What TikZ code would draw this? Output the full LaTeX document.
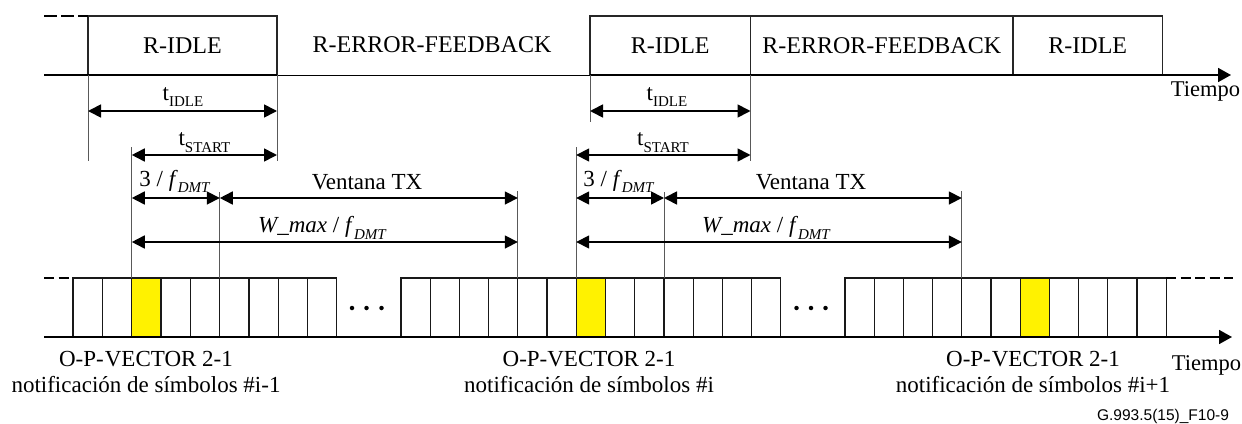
\documentclass[tikz,border=0pt]{standalone}
\usepackage{fontspec}
\setmainfont{Liberation Serif}
\newfontfamily\sansf{Liberation Sans}
\usetikzlibrary{arrows.meta}
\newcommand{\subtxt}[1]{\raisebox{-.28em}{\fontsize{15}{15}\selectfont #1}}
\tikzset{
  x=1pt,y=-1pt,
  lbl/.style={inner sep=0pt,outer sep=0pt,font=\fontsize{23}{24}\selectfont,anchor=center},
  seg/.style={draw=black!85,line width=1.1pt,inner sep=0pt,outer sep=0pt,anchor=north west,minimum height=59pt,font=\fontsize{24}{24}\selectfont},
  cell/.style={draw=black!90,line width=1.2pt,inner sep=0pt,outer sep=0pt,anchor=north west,minimum width=29.2pt,minimum height=59pt},
  hot/.style={cell,fill=yellow},
  axis/.style={line width=1.8pt,-{Triangle[length=13pt,width=14pt]}},
  axisplain/.style={line width=1.8pt},
  thinaxis/.style={line width=.9pt},
  dim/.style={line width=1.7pt,{Triangle[length=13pt,width=13pt]}-{Triangle[length=13pt,width=13pt]}},
  tick/.style={line width=.9pt,draw=black!65},
  dashline/.style={line width=1.6pt,dash pattern=on 10pt off 4.5pt},
  dotm/.style={circle,fill=black,inner sep=0pt,minimum size=4.5pt},
}
\begin{document}
\begin{tikzpicture}
\useasboundingbox (0,0) rectangle (1242,423);
% top segments
\node[seg,minimum width=189pt] (s1) at (88,16) {R-IDLE};
\node[seg,minimum width=160.5pt] (s2) at (590,16) {R-IDLE};
\node[seg,minimum width=262.5pt] (s3) at (750.5,16) {R-ERROR-FEEDBACK};
\node[seg,minimum width=149.5pt] (s4) at (1013,16) {R-IDLE};
\node[lbl,font=\fontsize{24}{24}\selectfont] (ef) at (432,44.5) {R-ERROR-FEEDBACK};
% top axis
\coordinate (ta0) at (44,75);
\coordinate (ta1) at (1231,75);
\draw[axisplain] (ta0) -- (s1.south east);
\draw[thinaxis] (s1.south east) -- (s2.south west);
\draw[axis] (s2.south west) -- (ta1);
\coordinate (td) at (44,16);
\draw[dashline,dash pattern=on 13pt off 4pt] (td) -- (s1.north west);
% bottom cells
\foreach \n/\x in {1/73,2/102.2,4/161.4,5/190.6,6/219.8,7/249,8/278.2,9/307.4,
  10/401,11/430.2,12/459.4,13/488.6,14/517.8,15/547,17/605.6,18/634.8,19/664,20/693.2,21/722.4,22/751.6,
  23/845,24/874.2,25/903.4,26/932.6,27/961.8,28/991,30/1049.4,31/1078.6,32/1107.8,33/1137}
  {\node[cell] (c\n) at (\x,278) {};}
\node[hot] (c3) at (131.8,278) {};
\node[hot] (c16) at (576.2,278) {};
\node[hot] (c29) at (1020.2,278) {};
% bottom axis
\coordinate (ba0) at (44,337);
\coordinate (ba1) at (1232,337);
\draw[axis] (ba0) -- (ba1);
\coordinate (bd0) at (44,278);
\coordinate (bd1) at (1233,278);
\draw[dashline] (bd0) -- (c1.north west);
\draw[dashline] (c33.north east) -- (bd1);
% dots
\node[dotm] (d1) at (352,308) {};
\node[dotm] (d2) at (366.5,308) {};
\node[dotm] (d3) at (381.5,308) {};
\node[dotm] (d4) at (796.5,308) {};
\node[dotm] (d5) at (811,308) {};
\node[dotm] (d6) at (825.5,308) {};
% tick tops / bottoms
\coordinate (k1) at (88,161);
\coordinate (k2) at (277,161);
\coordinate (k3) at (131.8,147);
\coordinate (k4) at (219.8,192);
\coordinate (k5) at (517.8,191);
\coordinate (k6) at (590,122);
\coordinate (k7) at (750.5,161);
\coordinate (k8) at (576.2,147);
\coordinate (k9) at (664,192);
\coordinate (k10) at (961.8,191);
\draw[tick] (s1.south west) -- (k1);
\draw[tick] (s1.south east) -- (k2);
\draw[tick] (s2.south west) -- (k6);
\draw[tick] (s2.south east) -- (k7);
\draw[tick] (k3) -- (c3.north west);
\draw[tick] (k4) -- (c6.north west);
\draw[tick] (k5) -- (c14.north west);
\draw[tick] (k8) -- (c16.north west);
\draw[tick] (k9) -- (c19.north west);
\draw[tick] (k10) -- (c27.north west);
% dimension lines
\foreach \g/\a/\b/\c/\d/\e in {A/88/277/131.8/219.8/517.8,B/590/750.5/576.2/664/961.8}{
  \coordinate (\g i0) at (\a,111); \coordinate (\g i1) at (\b,111);
  \coordinate (\g s0) at (\c,155); \coordinate (\g s1) at (\b,155);
  \coordinate (\g t0) at (\c,198); \coordinate (\g t1) at (\d,198); \coordinate (\g t2) at (\e,198);
  \coordinate (\g w0) at (\c,242); \coordinate (\g w1) at (\e,242);
  \draw[dim] (\g i0) -- (\g i1);
  \draw[dim] (\g s0) -- (\g s1);
  \draw[dim] (\g t0) -- (\g t1);
  \draw[dim] (\g t1) -- (\g t2);
  \draw[dim] (\g w0) -- (\g w1);
}
% labels
\node[lbl] (l1) at (183,97) {t\subtxt{IDLE}};
\node[lbl] (l2) at (204.5,142.5) {t\subtxt{START}};
\node[lbl] (l3) at (174.5,181.5) {3 / \textit{f}\subtxt{\itshape DMT}};
\node[lbl] (l4) at (367,182.5) {Ventana TX};
\node[lbl] (l5) at (322,228) {\textit{W\_max} / \textit{f}\subtxt{\itshape DMT}};
\node[lbl] (l6) at (667,97) {t\subtxt{IDLE}};
\node[lbl] (l7) at (663,142.5) {t\subtxt{START}};
\node[lbl] (l8) at (618.5,181.5) {3 / \textit{f}\subtxt{\itshape DMT}};
\node[lbl] (l9) at (811,182.5) {Ventana TX};
\node[lbl] (l10) at (766,228) {\textit{W\_max} / \textit{f}\subtxt{\itshape DMT}};
\node[lbl] (n1a) at (146,359.5) {O-P-\kern1pt VECTOR 2-1};
\node[lbl] (n1b) at (146,385) {notificación de símbolos \#i-1};
\node[lbl] (n2a) at (589,359.5) {O-P-VECTOR 2-1};
\node[lbl] (n2b) at (589,385) {notificación de símbolos \#i};
\node[lbl] (n3a) at (1033,359.5) {O-P-\kern1pt VECTOR 2-1};
\node[lbl] (n3b) at (1033,385) {notificación de símbolos \#i+1};
\node[lbl,font=\fontsize{22.5}{24}\selectfont] (ti1) at (1205.5,91) {Tiempo};
\node[lbl,font=\fontsize{22.5}{24}\selectfont] (ti2) at (1206.5,365) {Tiempo};
\node[lbl,font=\sansf\fontsize{15.5}{16}\selectfont] (ref) at (1163,416) {G.993.5(15)\_F10-9};
\end{tikzpicture}
\end{document}
